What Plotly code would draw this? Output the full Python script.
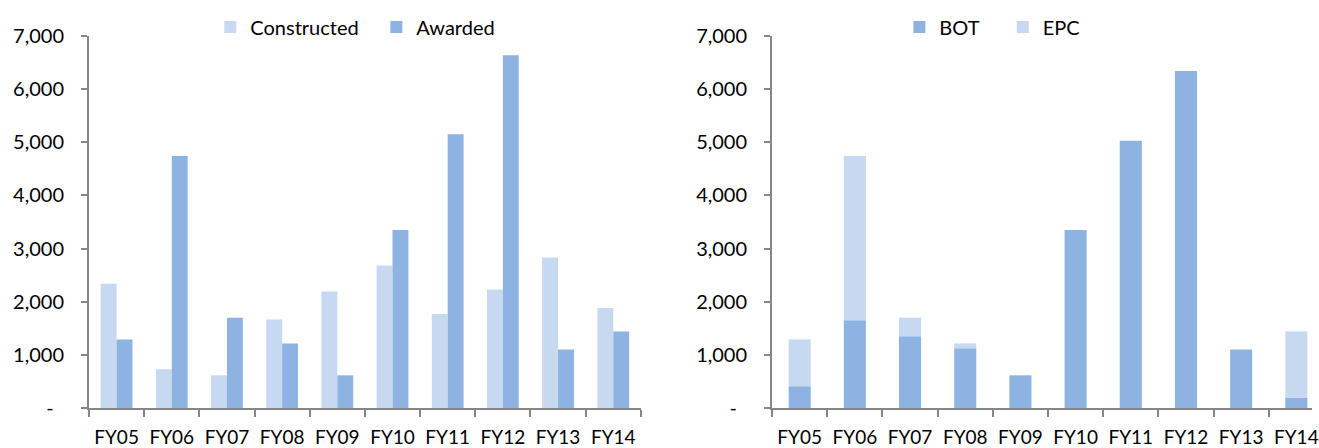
import plotly.graph_objects as go

# Fiscal years on the category axis
years = ["FY05", "FY06", "FY07", "FY08", "FY09", "FY10", "FY11", "FY12", "FY13", "FY14"]

# Left panel: road length constructed vs awarded
constructed = [2340, 730, 615, 1665, 2190, 2680, 1770, 2230, 2830, 1880]
awarded = [1290, 4740, 1700, 1215, 615, 3350, 5150, 6640, 1100, 1440]

# Right panel: awards split by contract mode
bot = [410, 1650, 1350, 1125, 615, 3350, 5030, 6340, 1100, 195]
epc = [880, 3090, 350, 90, 0, 0, 0, 0, 0, 1245]

# Value axis ticks
y_ticks = [0, 1000, 2000, 3000, 4000, 5000, 6000, 7000]
y_tick_text = ["-\u00a0\u00a0", "1,000", "2,000", "3,000", "4,000", "5,000", "6,000", "7,000"]

LIGHT = "#C6D9F1"
MID = "#8DB3E2"
AXIS = "#868686"
FAMILY = "Lato, Carlito, Calibri, sans-serif"
FONT = dict(family=FAMILY, size=20, color="#000000")
XFONT = dict(family=FAMILY, size=19, color="#000000")

W, H = 1319, 448
ML, MR, MT, MB = 89, 0, 36, 38
plot_w = W - ML - MR


def px_to_paper(px):
    return (px - ML) / plot_w


fig = go.Figure()

fig.add_trace(go.Bar(
    x=years, y=constructed, name="Constructed",
    marker=dict(color=LIGHT, line=dict(width=0)),
    width=0.288, offset=-0.288, xaxis="x", yaxis="y", legend="legend",
))
fig.add_trace(go.Bar(
    x=years, y=awarded, name="Awarded",
    marker=dict(color=MID, line=dict(width=0)),
    width=0.288, offset=0.0, xaxis="x", yaxis="y", legend="legend2",
))
fig.add_trace(go.Bar(
    x=years, y=bot, name="BOT",
    marker=dict(color=MID, line=dict(width=0)),
    width=0.4, offset=-0.2, xaxis="x2", yaxis="y2", legend="legend3",
))
fig.add_trace(go.Bar(
    x=years, y=epc, base=bot, name="EPC",
    marker=dict(color=LIGHT, line=dict(width=0)),
    width=0.4, offset=-0.2, xaxis="x2", yaxis="y2", legend="legend4",
))

x_common = dict(
    type="category", showline=True, linecolor=AXIS, linewidth=2,
    ticks="outside", tickson="boundaries", ticklen=7, tickwidth=2, tickcolor=AXIS,
    showgrid=False, zeroline=False, tickfont=XFONT, ticklabelstandoff=11,
    tickangle=0, fixedrange=True,
)
y_common = dict(
    range=[0, 7000], tickmode="array", tickvals=y_ticks, ticktext=y_tick_text,
    showline=True, linecolor=AXIS, linewidth=2,
    ticks="outside", ticklen=6, tickwidth=2, tickcolor=AXIS,
    showgrid=False, zeroline=False, tickfont=FONT, ticklabelstandoff=13,
    fixedrange=True,
)

legend_common = dict(
    orientation="h", yanchor="middle", y=1 + (MT - 27) / (H - MT - MB),
    xanchor="left", font=FONT, bgcolor="rgba(0,0,0,0)", borderwidth=0,
    itemclick=False, itemdoubleclick=False,
)

# legend symbol sits 14px in from the legend box edge
fig.update_layout(
    width=W, height=H, autosize=False,
    margin=dict(l=ML, r=MR, t=MT, b=MB, pad=0),
    paper_bgcolor="white", plot_bgcolor="white",
    barmode="overlay",
    font=FONT,
    xaxis=dict(domain=[0, px_to_paper(644)], range=[-0.5, 9.5], anchor="y", **x_common),
    yaxis=dict(domain=[0, 1], anchor="x", **y_common),
    xaxis2=dict(domain=[px_to_paper(776), 1], range=[-0.5, 9.5 - (1331 - W) / 55.5], anchor="y2", **x_common),
    yaxis2=dict(domain=[0, 1], anchor="x2", **y_common),
    legend=dict(x=px_to_paper(225 - 14), **legend_common),
    legend2=dict(x=px_to_paper(392 - 14), **legend_common),
    legend3=dict(x=px_to_paper(918 - 14), **legend_common),
    legend4=dict(x=px_to_paper(1022 - 14), **legend_common),
    showlegend=True,
)

fig.write_html("out.html", config={"displayModeBar": False})
